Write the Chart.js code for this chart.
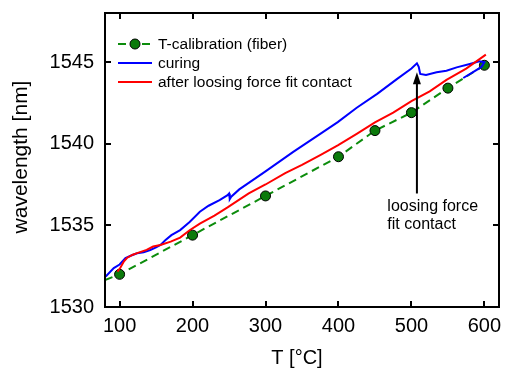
<!DOCTYPE html>
<html lang="en">
<head>
    <meta charset="UTF-8">
    <title>Wavelength vs temperature</title>
    <style>
        body { margin: 0; background: #fff; }
        #wrap { width: 505px; height: 368px; }
    </style>
</head>
<body>
    <div id="wrap"><canvas id="wlChart" width="505" height="368"></canvas></div>
    <script src="https://cdn.jsdelivr.net/npm/chart.js"></script>
    <script>
        // values
        const xTicks = [100, 200, 300, 400, 500, 600];
        const yTicks = [1530, 1535, 1540, 1545];

        // T-calibration (fiber): first entry is where the dashed line enters the plot
        const calT  = [80, 100, 200, 300, 400, 450, 500, 550, 600];
        const calWl = [1531.65, 1532.0, 1534.4, 1536.8, 1539.2, 1540.8, 1541.9, 1543.4, 1544.8];

        const curingT  = [81, 92, 100, 108, 116, 124, 133, 142, 150, 156, 163, 171, 183, 196, 210, 222, 237, 248, 250, 251, 253, 264, 277, 300, 338, 375, 399, 425, 453, 480, 500, 507.5, 510, 512, 520, 534.5, 548, 562, 580, 593, 600, 596, 585, 571];
        const curingWl = [1531.87, 1532.38, 1532.6, 1533.0, 1533.15, 1533.29, 1533.35, 1533.49, 1533.65, 1533.8, 1534.1, 1534.4, 1534.71, 1535.2, 1535.83, 1536.2, 1536.54, 1536.85, 1536.95, 1536.6, 1536.75, 1537.2, 1537.6, 1538.3, 1539.5, 1540.6, 1541.32, 1542.2, 1543.05, 1543.95, 1544.6, 1544.92, 1544.7, 1544.27, 1544.2, 1544.37, 1544.47, 1544.67, 1544.88, 1545.04, 1544.98, 1544.7, 1544.4, 1544.02];

        const afterT  = [97, 101, 106, 110, 118, 124, 137, 146, 156, 170, 183, 196, 210, 230, 248, 277, 300, 327, 350, 375, 399, 425, 450, 475, 500, 525, 548, 575, 602];
        const afterWl = [1532.17, 1532.4, 1532.8, 1533.0, 1533.2, 1533.3, 1533.5, 1533.7, 1533.8, 1534.0, 1534.25, 1534.7, 1535.1, 1535.6, 1536.1, 1536.95, 1537.5, 1538.2, 1538.7, 1539.3, 1539.9, 1540.6, 1541.3, 1541.9, 1542.6, 1543.2, 1543.9, 1544.6, 1545.45];

        // arrow: x position, tail and tip in data units
        const arrowT = 507.5;
        const arrowFrom = 1536.95;
        const arrowTo = 1544.37;
        const noteLines = ['loosing force', 'fit contact'];
        const noteT = 467;
        const noteWl = [1536.13, 1535.06];

        const legendItems = ['T-calibration (fiber)', 'curing', 'after loosing force fit contact'];

        const FONT = "Arial, 'Liberation Sans', sans-serif";
        const GREEN_LINE = '#0c8c0c';
        const GREEN_FILL = '#0b7a0b';

        const toXY = (xs, ys) => xs.map((x, i) => ({ x: x, y: ys[i] }));

        // keep the plot box where the original has it
        function fixBox(s, size) {
            if (s.isHorizontal()) s.height = size; else s.width = size;
            s.paddingLeft = 0;
            s.paddingRight = 0;
            s.paddingTop = 0;
            s.paddingBottom = 0;
        }

        // frame, inward ticks, axis titles, legend and arrow
        const decorations = {
            id: 'decorations',
            afterDraw(chart) {
                const ctx = chart.ctx;
                const area = chart.chartArea;
                const xs = chart.scales.x;
                const ys = chart.scales.y;
                const tl = 6;

                ctx.save();
                ctx.strokeStyle = '#000';
                ctx.lineWidth = 2;
                ctx.strokeRect(area.left, area.top, area.right - area.left, area.bottom - area.top);

                ctx.beginPath();
                xTicks.forEach(v => {
                    const px = Math.round(xs.getPixelForValue(v));
                    ctx.moveTo(px, area.bottom);
                    ctx.lineTo(px, area.bottom - tl);
                    ctx.moveTo(px, area.top);
                    ctx.lineTo(px, area.top + tl);
                });
                yTicks.forEach(v => {
                    const py = Math.round(ys.getPixelForValue(v));
                    ctx.moveTo(area.left, py);
                    ctx.lineTo(area.left + tl, py);
                    ctx.moveTo(area.right, py);
                    ctx.lineTo(area.right - tl, py);
                });
                ctx.stroke();

                // axis titles
                ctx.fillStyle = '#000';
                ctx.font = '20px ' + FONT;
                ctx.textAlign = 'center';
                ctx.textBaseline = 'alphabetic';
                ctx.fillText('T [°C]', 297, 364);
                ctx.save();
                ctx.translate(27, 157);
                ctx.rotate(-Math.PI / 2);
                ctx.font = '21px ' + FONT;
                ctx.fillText('wavelength [nm]', 0, 0);
                ctx.restore();

                // legend
                ctx.font = '15.5px ' + FONT;
                ctx.textAlign = 'left';
                ctx.textBaseline = 'middle';
                const lx0 = area.left + 13, lx1 = area.left + 47;
                const rows = [44, 63, 82];
                const styles = [
                    { color: GREEN_LINE, dash: [8, 5] },
                    { color: '#0000ff', dash: [] },
                    { color: '#ff0000', dash: [] }
                ];
                legendItems.forEach((label, i) => {
                    ctx.strokeStyle = styles[i].color;
                    ctx.lineWidth = 2;
                    ctx.setLineDash(styles[i].dash);
                    ctx.beginPath();
                    if (i === 0) {
                        ctx.moveTo(lx0, rows[i]);
                        ctx.lineTo(lx0 + 10, rows[i]);
                        ctx.moveTo(lx1 - 10, rows[i]);
                        ctx.lineTo(lx1, rows[i]);
                    } else {
                        ctx.moveTo(lx0, rows[i]);
                        ctx.lineTo(lx1, rows[i]);
                    }
                    ctx.stroke();
                    ctx.setLineDash([]);
                    if (i === 0) {
                        ctx.beginPath();
                        ctx.arc((lx0 + lx1) / 2, rows[i], 5, 0, Math.PI * 2);
                        ctx.fillStyle = GREEN_FILL;
                        ctx.fill();
                        ctx.lineWidth = 1;
                        ctx.strokeStyle = '#000';
                        ctx.stroke();
                    }
                    ctx.fillStyle = '#000';
                    ctx.fillText(label, lx1 + 6, rows[i] + 1);
                });

                // arrow
                const ax = xs.getPixelForValue(arrowT);
                const ay0 = ys.getPixelForValue(arrowFrom);
                const ay1 = ys.getPixelForValue(arrowTo);
                ctx.strokeStyle = '#000';
                ctx.fillStyle = '#000';
                ctx.lineWidth = 2;
                ctx.beginPath();
                ctx.moveTo(ax, ay0);
                ctx.lineTo(ax, ay1 + 10);
                ctx.stroke();
                ctx.beginPath();
                ctx.moveTo(ax, ay1);
                ctx.lineTo(ax - 4, ay1 + 12);
                ctx.lineTo(ax + 4, ay1 + 12);
                ctx.closePath();
                ctx.fill();

                ctx.font = '16px ' + FONT;
                ctx.textAlign = 'left';
                ctx.textBaseline = 'middle';
                noteLines.forEach((t, i) => {
                    ctx.fillText(t, xs.getPixelForValue(noteT), ys.getPixelForValue(noteWl[i]));
                });
                ctx.restore();
            }
        };

        const chart = new Chart(document.getElementById('wlChart').getContext('2d'), {
            type: 'scatter',
            data: {
                datasets: [
                    {
                        label: legendItems[0],
                        data: toXY(calT, calWl),
                        showLine: true,
                        borderColor: GREEN_LINE,
                        borderWidth: 2,
                        borderDash: [8, 5],
                        backgroundColor: GREEN_FILL,
                        pointBorderColor: '#000',
                        pointBorderWidth: 1,
                        pointRadius: c => c.dataIndex === 0 ? 0 : 5,
                        order: 3
                    },
                    {
                        label: legendItems[1],
                        data: toXY(curingT, curingWl),
                        showLine: true,
                        borderColor: '#0000ff',
                        borderWidth: 2,
                        pointRadius: 0,
                        order: 2
                    },
                    {
                        label: legendItems[2],
                        data: toXY(afterT, afterWl),
                        showLine: true,
                        borderColor: '#ff0000',
                        borderWidth: 2,
                        pointRadius: 0,
                        order: 1
                    }
                ]
            },
            options: {
                responsive: false,
                animation: false,
                layout: { padding: { top: 13, right: 3, left: 0, bottom: 0 } },
                plugins: {
                    legend: { display: false },
                    tooltip: { enabled: false }
                },
                scales: {
                    x: {
                        type: 'linear',
                        min: 80,
                        max: 620,
                        grid: { display: false, drawTicks: false },
                        border: { display: false },
                        afterBuildTicks: s => { s.ticks = xTicks.map(v => ({ value: v })); },
                        afterFit: s => fixBox(s, 61),
                        ticks: {
                            color: '#000',
                            padding: 7,
                            maxRotation: 0,
                            callback: v => String(v),
                            font: { family: FONT, size: 20 }
                        }
                    },
                    y: {
                        type: 'linear',
                        min: 1530,
                        max: 1548,
                        grid: { display: false, drawTicks: false },
                        border: { display: false },
                        afterBuildTicks: s => { s.ticks = yTicks.map(v => ({ value: v })); },
                        afterFit: s => fixBox(s, 105),
                        ticks: {
                            color: '#000',
                            padding: 11,
                            callback: v => String(v),
                            font: { family: FONT, size: 20 }
                        }
                    }
                }
            },
            plugins: [decorations]
        });
    </script>
</body>
</html>
